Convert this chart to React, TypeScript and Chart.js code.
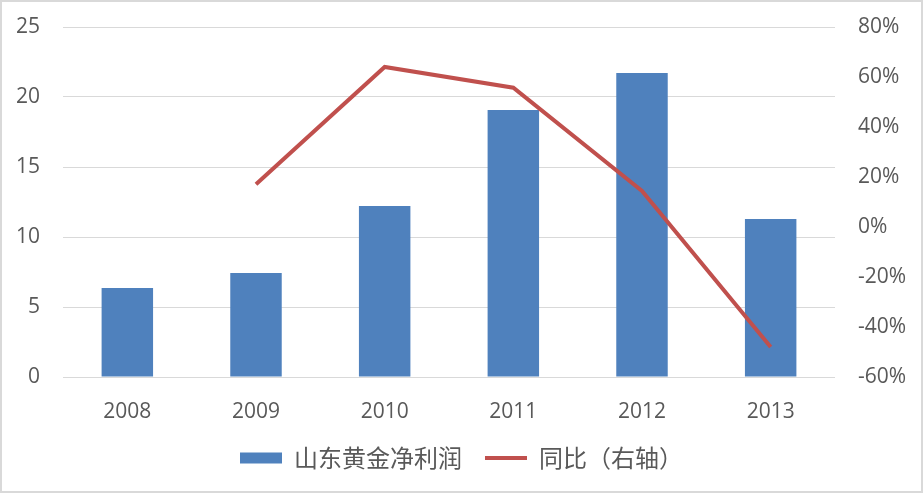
import React, { useEffect, useRef } from 'react';
import { Chart, registerables } from 'chart.js';

Chart.register(...registerables);

const years = ['2008', '2009', '2010', '2011', '2012', '2013'];
const netProfit = [6.36, 7.43, 12.21, 19.07, 21.71, 11.29];
const yoyGrowth = [null, 0.171, 0.64, 0.557, 0.144, -0.48];

const FONT = '"Open Sans", "Noto Sans CJK SC", sans-serif';
const CJK = '"Noto Sans CJK SC", "Open Sans", sans-serif';

const App: React.FC = () => {
  const canvasRef = useRef<HTMLCanvasElement | null>(null);

  useEffect(() => {
    const canvas = canvasRef.current;
    if (!canvas) return;
    const chart = new Chart(canvas, {
      data: {
        labels: years,
        datasets: [
          {
            type: 'line',
            label: '同比（右轴）',
            data: yoyGrowth,
            yAxisID: 'yRight',
            borderColor: '#C0504D',
            backgroundColor: '#C0504D',
            borderWidth: 4,
            pointRadius: 0,
            tension: 0,
            order: 0,
          },
          {
            type: 'bar',
            label: '山东黄金净利润',
            data: netProfit,
            yAxisID: 'y',
            backgroundColor: '#4F81BD',
            borderWidth: 0,
            barPercentage: 0.4,
            categoryPercentage: 1,
            order: 1,
          },
        ],
      },
      options: {
        responsive: true,
        maintainAspectRatio: false,
        animation: false,
        layout: { padding: { top: 25, bottom: 11, left: 0, right: 0 } },
        plugins: {
          tooltip: { enabled: false },
          legend: {
            position: 'bottom',
            reverse: true,
            labels: {
              color: '#595959',
              font: { family: CJK, size: 24 },
              usePointStyle: true,
              pointStyleWidth: 42,
              boxHeight: 11,
              padding: 23,
              generateLabels: (c) => {
                const items = Chart.defaults.plugins.legend.labels.generateLabels(c);
                return items.map((it) => ({
                  ...it,
                  pointStyle: it.datasetIndex === 0 ? 'line' : 'rect',
                  lineWidth: it.datasetIndex === 0 ? 4 : 0,
                }));
              },
            },
          },
        },
        scales: {
          x: {
            grid: { display: false },
            border: { display: false },
            ticks: { color: '#595959', font: { family: FONT, size: 21 }, padding: 14 },
            afterFit: (s) => {
              s.height = 46;
            },
          },
          y: {
            position: 'left',
            min: 0,
            max: 25,
            ticks: { stepSize: 5, color: '#595959', font: { family: FONT, size: 21 }, padding: 23 },
            grid: { color: '#D9D9D9', lineWidth: 1, drawTicks: false },
            border: { display: false },
            afterFit: (s) => {
              s.width = 61;
              s.paddingTop = 13;
              s.paddingBottom = 13;
            },
          },
          yRight: {
            position: 'right',
            min: -0.6,
            max: 0.8,
            ticks: {
              stepSize: 0.2,
              color: '#595959',
              font: { family: FONT, size: 21 },
              padding: 23,
              callback: (v) => Math.round(Number(v) * 100) + '%',
            },
            grid: { display: false, drawTicks: false },
            border: { display: false },
            afterFit: (s) => {
              s.width = 86;
              s.paddingTop = 13;
              s.paddingBottom = 13;
            },
          },
        },
      },
    });
    return () => chart.destroy();
  }, []);

  return (
    <div
      style={{
        position: 'fixed',
        left: 0,
        top: 0,
        width: 923,
        height: 493,
        boxSizing: 'border-box',
        border: '2px solid #D9D9D9',
        background: '#fff',
      }}
    >
      <canvas ref={canvasRef}></canvas>
    </div>
  );
};

export default App;
